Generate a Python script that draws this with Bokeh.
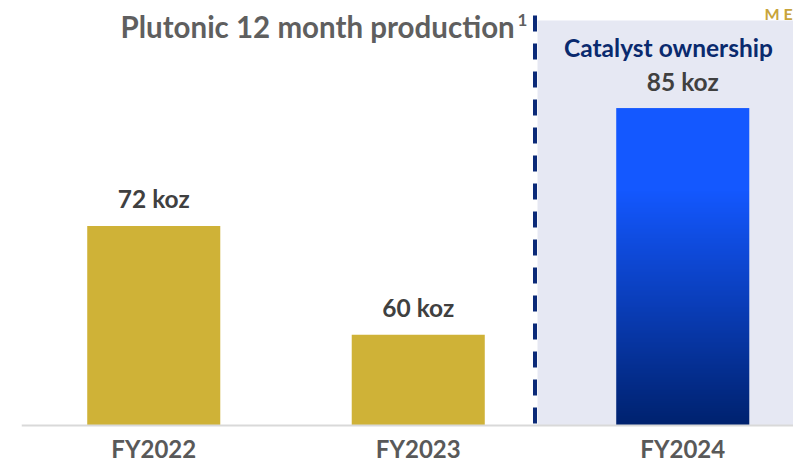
import numpy as np
from bokeh.plotting import figure
from bokeh.models import Range1d, FixedTicker, BoxAnnotation, ColumnDataSource
from bokeh.core.properties import value
from bokeh.embed import file_html
from bokeh.resources import INLINE

# ---- data ----
categories = ["FY2022", "FY2023", "FY2024"]
production_koz = [72, 60, 85]
value_labels = ["72 koz", "60 koz", "85 koz"]
owner = ["other", "other", "Catalyst"]
title_text = "Plutonic 12 month production"
footnote_mark = "1"
highlight_text = "Catalyst ownership"

Y0 = 50  # axis starts above zero (bars not to scale)
FONT = "Lato"

xs = list(range(len(categories)))

p = figure(width=793, height=464, output_backend="svg", toolbar_location=None,
           x_range=Range1d(-0.5, 2.4187), y_range=Range1d(45.70, 96.86),
           min_border_left=21, min_border_right=0, min_border_top=0, min_border_bottom=0,
           background_fill_color="white", border_fill_color="white")
p.outline_line_color = None
p.grid.visible = False
p.yaxis.visible = False

# shaded Catalyst region
p.add_layout(BoxAnnotation(left=1.4509, top=94.65, bottom=Y0, fill_color="#E6E8F3",
                           fill_alpha=1.0, line_alpha=0, level="underlay"))

# dashed divider
p.segment(x0=[1.4414], y0=[95.2], x1=[1.4414], y1=[Y0], line_color="#0B2A78",
          line_width=4, line_dash="16 12")

# gold bars (non-Catalyst years)
gold_idx = [i for i, o in enumerate(owner) if o != "Catalyst"]
src_gold = ColumnDataSource(dict(x=[xs[i] for i in gold_idx],
                                 top=[production_koz[i] for i in gold_idx]))
p.vbar(x="x", top="top", bottom=Y0, width=0.503, source=src_gold,
       fill_color="#CFB237", line_color=None)

# gradient bar(s) for Catalyst ownership: navy at base, bright blue in upper quarter
n = 256
top_c = np.array([0x14, 0x58, 0xFF], dtype=float)
bot_c = np.array([0x00, 0x22, 0x6F], dtype=float)
t = np.linspace(0, 1, n)[:, None]
s = np.clip(t / 0.74, 0, 1)
rgb = (bot_c * (1 - s) + top_c * s).astype(np.uint8)
img = np.zeros((n, 1), dtype=np.uint32)
view = img.view(dtype=np.uint8).reshape((n, 1, 4))
view[:, 0, 0] = rgb[:, 0]
view[:, 0, 1] = rgb[:, 1]
view[:, 0, 2] = rgb[:, 2]
view[:, 0, 3] = 255
for i, o in enumerate(owner):
    if o == "Catalyst":
        p.image_rgba(image=[img], x=xs[i] - 0.2515, y=Y0, dw=0.503,
                     dh=production_koz[i] - Y0)

# value labels
src_lab = ColumnDataSource(dict(x=xs, y=production_koz, t=value_labels))
p.text(x="x", y="y", text="t", source=src_lab, text_align="center",
       text_baseline="middle", y_offset=-27, text_font=value(FONT),
       text_font_style="bold", text_font_size="24.5px", text_color="#404040")

# title
p.text(x=[-0.1257], y=[93.99], text=[title_text], text_align="left",
       text_baseline="middle", text_font=value(FONT), text_font_style="bold",
       text_font_size="29.5px", text_color="#5F5F5F")
p.text(x=[1.3752], y=[94.75], text=[footnote_mark], text_align="left",
       text_baseline="middle", text_font=value(FONT), text_font_style="bold",
       text_font_size="17px", text_color="#5F5F5F")

# highlight heading
p.text(x=[1.946], y=[91.68], text=[highlight_text], text_align="center",
       text_baseline="middle", text_font=value(FONT), text_font_style="bold",
       text_font_size="24.5px", text_color="#0A2A6E")

# logo text in corner
p.text(x=[2.309], y=[95.4], text=["M E"], text_align="left",
       text_baseline="middle", text_font=value(FONT), text_font_style="bold",
       text_font_size="16px", text_color="#C8A43A")

# x axis with category labels, pinned at the bar base
ax = p.xaxis[0]
ax.fixed_location = Y0
ax.ticker = FixedTicker(ticks=xs)
ax.major_label_overrides = {x: c for x, c in zip(xs, categories)}
ax.axis_line_color = "#D9D9D9"
ax.axis_line_width = 2
ax.major_tick_line_color = None
ax.minor_tick_line_color = None
ax.major_tick_out = 0
ax.major_tick_in = 0
ax.major_label_standoff = 8
ax.major_label_text_font = FONT
ax.major_label_text_font_style = "bold"
ax.major_label_text_font_size = "24px"
ax.major_label_text_color = "#595959"

open("out.html", "w").write(file_html(p, INLINE))
